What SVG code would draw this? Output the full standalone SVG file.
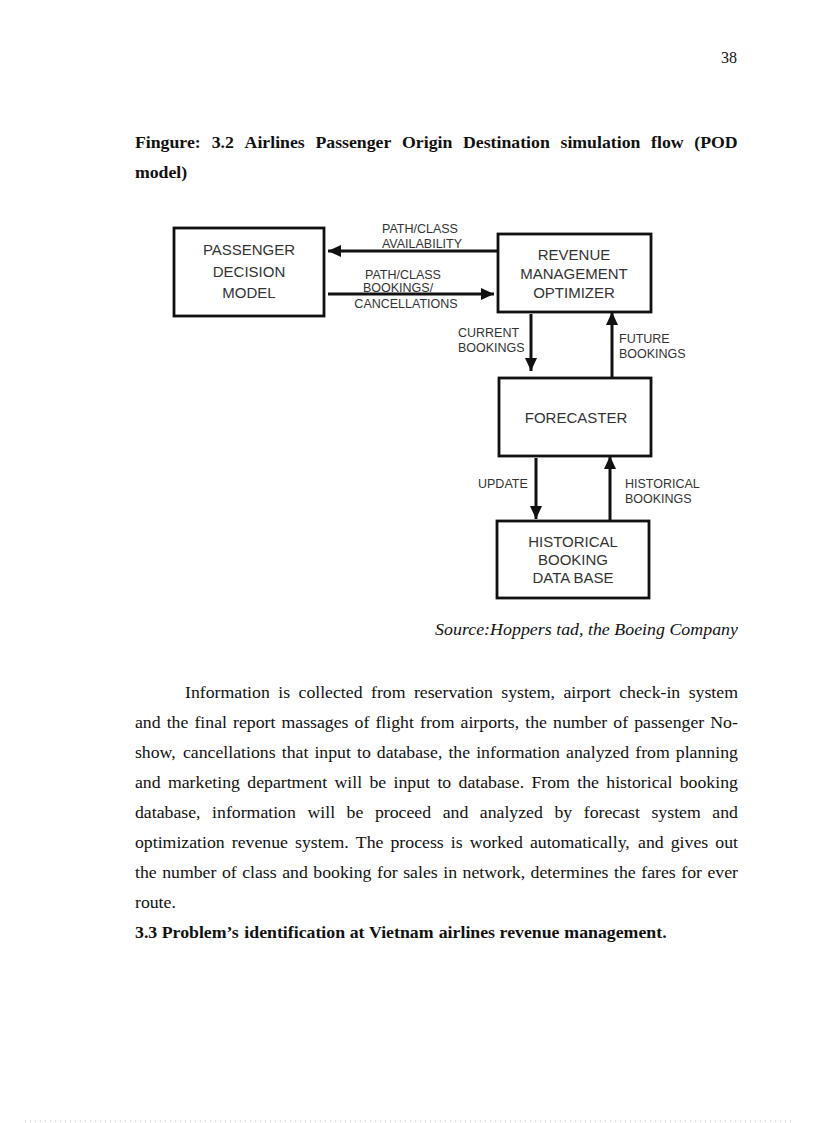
<svg xmlns="http://www.w3.org/2000/svg" width="816" height="1123" viewBox="0 0 816 1123">
<style>
.box{fill:none;stroke:#111;stroke-width:2.8}
.bt{font-family:"Liberation Sans",Arial,sans-serif;font-size:15px;fill:#333;text-anchor:middle}
.lb{font-family:"Liberation Sans",Arial,sans-serif;font-size:12.5px;fill:#333}
.ar{stroke:#111;stroke-width:3;fill:none}
.body{font-family:"Liberation Serif","Times New Roman",serif;font-size:16px;fill:#111}
.title{font-family:"Liberation Serif","Times New Roman",serif;font-size:16px;font-weight:bold;fill:#111}
</style>
<defs>
<marker id="ah" markerUnits="userSpaceOnUse" markerWidth="14" markerHeight="14" refX="13" refY="7" orient="auto">
<polygon points="0,1 13,7 0,13" fill="#111"/>
</marker>
</defs>
<rect width="816" height="1123" fill="#fff"/>
<text x="737" y="63" class="body" font-size="14" text-anchor="end">38</text>
<g transform="scale(1.11 1)">
<text y="148" class="title"><tspan x="121.6">Fingure:</tspan><tspan x="190.75">3.2</tspan><tspan x="220.35">Airlines</tspan><tspan x="284.17">Passenger</tspan><tspan x="362.2">Origin</tspan><tspan x="417.14">Destination</tspan><tspan x="504.96">simulation</tspan><tspan x="586.58">flow</tspan><tspan x="625.51">(POD</tspan></text>
<text x="121.6" y="178" class="title">model)</text>
</g>

<g id="connectors">
<line class="ar" x1="497" y1="251" x2="328" y2="251" marker-end="url(#ah)"/>
<line class="ar" x1="328" y1="294" x2="494" y2="294" marker-end="url(#ah)"/>
<line class="ar" x1="531" y1="314" x2="531" y2="371" marker-end="url(#ah)"/>
<line class="ar" x1="612" y1="377" x2="612" y2="312" marker-end="url(#ah)"/>
<line class="ar" x1="536" y1="458" x2="536" y2="519" marker-end="url(#ah)"/>
<line class="ar" x1="610" y1="520" x2="610" y2="456" marker-end="url(#ah)"/>
<text class="lb" x="420" y="233" text-anchor="middle">PATH/CLASS</text>
<text class="lb" x="422" y="248" text-anchor="middle">AVAILABILITY</text>
<text class="lb" x="403" y="279" text-anchor="middle">PATH/CLASS</text>
<text class="lb" x="363" y="292">BOOKINGS/</text>
<text class="lb" x="406" y="308" text-anchor="middle">CANCELLATIONS</text>
<text class="lb" x="458" y="337">CURRENT</text>
<text class="lb" x="458" y="352">BOOKINGS</text>
<text class="lb" x="619" y="343">FUTURE</text>
<text class="lb" x="619" y="358">BOOKINGS</text>
<text class="lb" x="478" y="488">UPDATE</text>
<text class="lb" x="625" y="488">HISTORICAL</text>
<text class="lb" x="625" y="503">BOOKINGS</text>
</g>

<g id="passenger">
<rect class="box" x="174" y="228" width="150" height="88"/>
<text class="bt" x="249" y="255">PASSENGER</text>
<text class="bt" x="249" y="277">DECISION</text>
<text class="bt" x="249" y="298">MODEL</text>
</g>
<g id="revenue">
<rect class="box" x="498" y="234" width="153" height="78"/>
<text class="bt" x="574" y="260">REVENUE</text>
<text class="bt" x="574" y="279">MANAGEMENT</text>
<text class="bt" x="574" y="298">OPTIMIZER</text>
</g>
<g id="forecaster">
<rect class="box" x="499" y="378" width="152" height="78"/>
<text class="bt" x="576" y="423">FORECASTER</text>
</g>
<g id="historical">
<rect class="box" x="497" y="521" width="152" height="77"/>
<text class="bt" x="573" y="547">HISTORICAL</text>
<text class="bt" x="573" y="565">BOOKING</text>
<text class="bt" x="573" y="583">DATA BASE</text>
</g>

<g transform="scale(1.118 1)">
<text x="660.1" y="635" class="body" font-size="15" font-style="italic" text-anchor="end">Source:Hoppers tad, the Boeing Company</text>
</g>

<g transform="scale(1.11 1)">
<text y="698" class="body"><tspan x="166.7">Information</tspan><tspan x="250.69">is</tspan><tspan x="268.92">collected</tspan><tspan x="334.24">from</tspan><tspan x="372.9">reservation</tspan><tspan x="451.55">system,</tspan><tspan x="507.56">airport</tspan><tspan x="557.78">check-in</tspan><tspan x="620.43">system</tspan></text>
<text y="728" class="body"><tspan x="121.6">and</tspan><tspan x="150.15">the</tspan><tspan x="175.15">final</tspan><tspan x="209.93">report</tspan><tspan x="253.59">massages</tspan><tspan x="319.47">of</tspan><tspan x="338.25">flight</tspan><tspan x="378.37">from</tspan><tspan x="414.92">airports,</tspan><tspan x="473.25">the</tspan><tspan x="498.25">number</tspan><tspan x="552.58">of</tspan><tspan x="571.36">passenger</tspan><tspan x="639.9">No-</tspan></text>
<text y="758" class="body"><tspan x="121.6">show,</tspan><tspan x="164.82">cancellations</tspan><tspan x="253.8">that</tspan><tspan x="283.24">input</tspan><tspan x="321.58">to</tspan><tspan x="339.47">database,</tspan><tspan x="404">the</tspan><tspan x="428.99">information</tspan><tspan x="509.98">analyzed</tspan><tspan x="572.28">from</tspan><tspan x="608.82">planning</tspan></text>
<text y="788" class="body"><tspan x="121.6">and</tspan><tspan x="151.3">marketing</tspan><tspan x="222.78">department</tspan><tspan x="301.36">will</tspan><tspan x="332.86">be</tspan><tspan x="354.56">input</tspan><tspan x="394.06">to</tspan><tspan x="413.11">database.</tspan><tspan x="478.8">From</tspan><tspan x="520.07">the</tspan><tspan x="546.22">historical</tspan><tspan x="612.37">booking</tspan></text>
<text y="818" class="body"><tspan x="121.6">database,</tspan><tspan x="191.07">information</tspan><tspan x="277">will</tspan><tspan x="312.28">be</tspan><tspan x="337.76">proceed</tspan><tspan x="398.78">and</tspan><tspan x="432.26">analyzed</tspan><tspan x="499.5">by</tspan><tspan x="525.88">forecast</tspan><tspan x="586.9">system</tspan><tspan x="641.73">and</tspan></text>
<text y="848" class="body"><tspan x="121.6">optimization</tspan><tspan x="208.83">revenue</tspan><tspan x="265.8">system.</tspan><tspan x="320.58">The</tspan><tspan x="351.79">process</tspan><tspan x="406.1">is</tspan><tspan x="423.1">worked</tspan><tspan x="477.41">automatically,</tspan><tspan x="574.84">and</tspan><tspan x="604.27">gives</tspan><tspan x="644.38">out</tspan></text>
<text y="878" class="body"><tspan x="121.6">the</tspan><tspan x="146.09">number</tspan><tspan x="199.91">of</tspan><tspan x="218.18">class</tspan><tspan x="254.22">and</tspan><tspan x="282.26">booking</tspan><tspan x="339.65">for</tspan><tspan x="363.25">sales</tspan><tspan x="399.29">in</tspan><tspan x="416.68">network,</tspan><tspan x="478.05">determines</tspan><tspan x="553.2">the</tspan><tspan x="577.69">fares</tspan><tspan x="613.72">for</tspan><tspan x="637.32">ever</tspan></text>
<text x="121.6" y="908" class="body">route.</text>
</g>
<g transform="scale(1.113 1)">
<text y="938" class="title"><tspan x="121.3">3.3</tspan><tspan x="145.3">Problem’s</tspan><tspan x="219.51">identification</tspan><tspan x="314.18">at</tspan><tspan x="331.51">Vietnam</tspan><tspan x="394.17">airlines</tspan><tspan x="448.84">revenue</tspan><tspan x="507.05">management.</tspan></text>
</g>

<line x1="25" y1="1121" x2="792" y2="1121" stroke="#bbb" stroke-width="1" stroke-dasharray="1 4"/>
</svg>
